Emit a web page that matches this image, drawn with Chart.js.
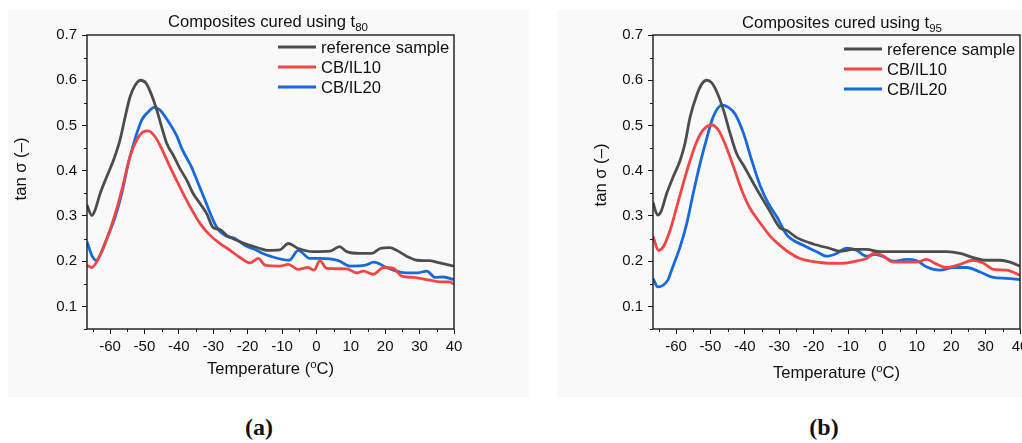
<!DOCTYPE html>
<html lang="en">
  <head>
    <meta charset="UTF-8" />
    <title>tan delta vs temperature</title>
    <script src="https://cdn.jsdelivr.net/npm/chart.js@4.4.0/dist/chart.umd.min.js"></script>
    <style>
      html, body {
        margin: 0;
        padding: 0;
        width: 1022px;
        height: 443px;
        overflow: hidden;
        background: #fff;
      }
      .panel {
        position: absolute;
        top: 10px;
        height: 387px;
        background: #f9f9f9;
      }
      .caption {
        position: absolute;
        top: 414px;
        font: bold 24px "Liberation Serif", serif;
        color: #111;
        transform: translateX(-50%);
      }
    </style>
  </head>
  <body>
    <div class="panel" style="left: 8px; width: 521px">
      <canvas id="chartA" width="521" height="387"></canvas>
    </div>
    <div class="panel" style="left: 557px; width: 521px">
      <canvas id="chartB" width="521" height="387"></canvas>
    </div>
    <div class="caption" style="left: 259px">(a)</div>
    <div class="caption" style="left: 824px">(b)</div>

    <script>
      // ---- data ----
      var names = ["reference sample", "CB/IL10", "CB/IL20"];
      var colors = ["#4d4d4d", "#f24646", "#1769dc"];
      var xTicks = [-60, -50, -40, -30, -20, -10, 0, 10, 20, 30, 40];
      var yTicks = [0.1, 0.2, 0.3, 0.4, 0.5, 0.6, 0.7];

      // (a) t80
      var refA_T = [-66.7, -65.3, -64.4, -62.9, -61, -59, -57.1, -55.6, -54.2, -52.7, -51.1, -49.5, -47.9, -46.4, -45, -43.5, -41.6, -39.9, -37.7, -35.8, -33.8, -31.9, -30, -28, -26.1, -23.2, -20.3, -16.4, -14.4, -10.6, -8.2, -5.3, -0.9, 4, 6.7, 8.8, 12.7, 16.1, 18.5, 21.4, 23.3, 26.2, 29.2, 33, 35.9, 40];
      var refA_tan = [0.324, 0.301, 0.312, 0.349, 0.386, 0.423, 0.468, 0.519, 0.563, 0.589, 0.6, 0.593, 0.567, 0.534, 0.497, 0.46, 0.434, 0.408, 0.379, 0.349, 0.327, 0.305, 0.274, 0.27, 0.257, 0.246, 0.237, 0.228, 0.224, 0.225, 0.239, 0.228, 0.221, 0.222, 0.232, 0.221, 0.217, 0.217, 0.228, 0.23, 0.224, 0.211, 0.202, 0.201, 0.196, 0.189];
      var il10A_T = [-66.7, -65.3, -63.9, -61.9, -60, -58, -56.1, -54.2, -52.2, -50.3, -48.9, -46.9, -45, -42.6, -39.7, -36.7, -33.8, -30.9, -28, -25.1, -22.2, -19.3, -16.9, -14.9, -10.6, -8.2, -5.3, -2.4, -0.7, 1, 3, 8.8, 11.7, 13.7, 16.5, 19.5, 22.4, 24.8, 28.2, 33, 35.9, 38.8, 40];
      var il10A_tan = [0.191, 0.186, 0.198, 0.232, 0.269, 0.317, 0.372, 0.431, 0.468, 0.486, 0.488, 0.475, 0.449, 0.409, 0.364, 0.32, 0.283, 0.257, 0.239, 0.224, 0.208, 0.196, 0.206, 0.191, 0.189, 0.193, 0.182, 0.186, 0.18, 0.201, 0.184, 0.183, 0.174, 0.178, 0.171, 0.186, 0.184, 0.167, 0.164, 0.158, 0.154, 0.154, 0.149];
      var il20A_T = [-66.7, -65.3, -64, -62.4, -60.5, -58.5, -56.6, -54.7, -52.7, -50.8, -48.9, -47.2, -45.5, -43, -40.6, -39.2, -37.5, -36.3, -34.8, -32.4, -30, -28.5, -26.1, -23.7, -20.8, -17.4, -15.9, -13.5, -7.9, -5.3, -1.9, 1, 6.4, 9.8, 14.2, 16.7, 20.4, 24.3, 29.2, 32.1, 34.5, 37, 40];
      var il20A_tan = [0.243, 0.213, 0.202, 0.221, 0.258, 0.298, 0.35, 0.416, 0.471, 0.512, 0.53, 0.54, 0.534, 0.508, 0.477, 0.45, 0.425, 0.408, 0.38, 0.335, 0.29, 0.269, 0.255, 0.25, 0.235, 0.224, 0.218, 0.211, 0.202, 0.224, 0.206, 0.206, 0.201, 0.189, 0.191, 0.198, 0.186, 0.176, 0.174, 0.178, 0.164, 0.165, 0.159];

      // (b) t95
      var refB_T = [-66.7, -65.4, -64.4, -62.7, -60.8, -58.8, -57.4, -55.9, -54, -52.5, -51.1, -49.6, -48.2, -46.2, -44.3, -42.4, -40.4, -38, -35.6, -32.7, -29.8, -27.8, -24.9, -20.1, -15.2, -12.3, -8.5, -4.6, -0.7, 8, 18.7, 22.6, 26.4, 30.3, 34.2, 37.1, 40];
      var refB_tan = [0.33, 0.302, 0.309, 0.35, 0.387, 0.423, 0.46, 0.519, 0.567, 0.592, 0.6, 0.594, 0.575, 0.534, 0.483, 0.438, 0.412, 0.379, 0.347, 0.31, 0.274, 0.268, 0.252, 0.238, 0.228, 0.222, 0.226, 0.226, 0.221, 0.221, 0.221, 0.217, 0.208, 0.202, 0.202, 0.198, 0.189];
      var il10B_T = [-66.7, -65.1, -63.7, -61.7, -59.8, -57.9, -55.9, -54, -52.1, -49.6, -47.7, -45.8, -43.3, -40.9, -38.5, -35.6, -32.7, -29.8, -26.9, -24, -18.1, -12.3, -6.5, -4.6, -2.2, 0.3, 3.2, 10, 12.9, 15.3, 18.7, 22.6, 26.4, 29.3, 32.2, 36.1, 40];
      var il10B_tan = [0.255, 0.224, 0.232, 0.269, 0.32, 0.372, 0.423, 0.464, 0.49, 0.501, 0.49, 0.46, 0.409, 0.357, 0.317, 0.285, 0.256, 0.235, 0.218, 0.206, 0.197, 0.195, 0.202, 0.206, 0.218, 0.211, 0.198, 0.198, 0.204, 0.195, 0.186, 0.193, 0.202, 0.196, 0.182, 0.18, 0.169];
      var il20B_T = [-66.7, -65.3, -62.4, -61.3, -58.8, -56.9, -55, -53, -51.1, -49.2, -46.7, -44.8, -42.8, -40.4, -38, -35.6, -33.2, -30.7, -27.8, -23, -19.1, -16.2, -13.3, -10.4, -7.5, -4.6, -2.2, 0.3, 3.2, 7.1, 10, 12.9, 16.7, 20.6, 24.5, 28.4, 32.2, 36.1, 40];
      var il20B_tan = [0.162, 0.143, 0.158, 0.18, 0.232, 0.283, 0.35, 0.416, 0.471, 0.519, 0.545, 0.54, 0.525, 0.483, 0.423, 0.368, 0.328, 0.298, 0.258, 0.235, 0.221, 0.211, 0.217, 0.229, 0.224, 0.211, 0.215, 0.21, 0.2, 0.204, 0.201, 0.187, 0.18, 0.186, 0.186, 0.176, 0.164, 0.162, 0.159];

      var FONT = '"Liberation Sans", Arial, sans-serif';
      var BIG = "16.6px " + FONT;
      var SMALL = "11.5px " + FONT;

      function pts(xs, ys) {
        return xs.map(function (v, i) {
          return { x: v, y: ys[i] };
        });
      }

      // frame, minor ticks, title, legend and axis titles
      var decor = {
        id: "decor",
        afterDraw: function (chart, args, o) {
          var ctx = chart.ctx;
          var a = chart.chartArea;
          var x = chart.scales.x;
          var y = chart.scales.y;
          ctx.save();

          ctx.strokeStyle = "#1a1a1a";
          ctx.lineWidth = 1.4;
          ctx.strokeRect(a.left, a.top, a.right - a.left, a.bottom - a.top);

          // minor ticks
          ctx.lineWidth = 1;
          ctx.beginPath();
          for (var v = -65; v <= 35; v += 10) {
            var px = Math.round(x.getPixelForValue(v)) + 0.5;
            ctx.moveTo(px, a.bottom);
            ctx.lineTo(px, a.bottom + 3);
          }
          for (var k = 0; k < 7; k++) {
            var py = Math.round(y.getPixelForValue(0.05 + k * 0.1)) + 0.5;
            ctx.moveTo(a.left, py);
            ctx.lineTo(a.left - 3, py);
          }
          ctx.stroke();

          ctx.fillStyle = "#111";
          ctx.textBaseline = "alphabetic";

          // title with subscript
          ctx.font = BIG;
          var main = "Composites cured using t";
          var w1 = ctx.measureText(main).width;
          ctx.font = SMALL;
          var w2 = ctx.measureText(o.sub).width;
          var tx = o.titleX - (w1 + w2) / 2;
          ctx.font = BIG;
          ctx.textAlign = "left";
          ctx.fillText(main, tx, o.titleY);
          ctx.font = SMALL;
          ctx.fillText(o.sub, tx + w1, o.titleY + 4);

          // legend
          ctx.font = BIG;
          ctx.textBaseline = "middle";
          chart.data.datasets.forEach(function (ds, i) {
            var ly = o.legY + i * 20;
            ctx.strokeStyle = ds.borderColor;
            ctx.lineWidth = 3;
            ctx.beginPath();
            ctx.moveTo(o.legX, ly);
            ctx.lineTo(o.legX + 38, ly);
            ctx.stroke();
            ctx.fillText(ds.label, o.legX + 43, ly + 1);
          });

          // y title
          ctx.save();
          ctx.translate(o.yTitle[0], o.yTitle[1]);
          ctx.rotate(-Math.PI / 2);
          ctx.textAlign = "center";
          ctx.font = BIG;
          ctx.fillText("tan \u03c3 (\u2013)", 0, 0);
          ctx.restore();

          // x title with superscript o
          ctx.textBaseline = "alphabetic";
          ctx.font = BIG;
          var p1 = "Temperature (",
            p3 = "C)";
          var a1 = ctx.measureText(p1).width;
          var a3 = ctx.measureText(p3).width;
          ctx.font = SMALL;
          var a2 = ctx.measureText("o").width;
          var cx = (a.left + a.right) / 2 - (a1 + a2 + a3) / 2;
          ctx.font = BIG;
          ctx.fillText(p1, cx, o.xTitleY);
          ctx.font = SMALL;
          ctx.fillText("o", cx + a1, o.xTitleY - 6);
          ctx.font = BIG;
          ctx.fillText(p3, cx + a1 + a2, o.xTitleY);

          ctx.restore();
        },
      };

      function makeChart(id, series, yw, padRight, deco) {
        var datasets = series.map(function (s, i) {
          return {
            label: names[i],
            data: s,
            borderColor: colors[i],
            borderWidth: 2.8,
            pointRadius: 0,
            fill: false,
            cubicInterpolationMode: "monotone",
          };
        });
        return new Chart(document.getElementById(id), {
          type: "line",
          data: { datasets: datasets },
          plugins: [decor],
          options: {
            responsive: false,
            animation: false,
            devicePixelRatio: 1,
            layout: { padding: { top: 25, right: padRight, left: 0, bottom: 0 } },
            plugins: {
              legend: { display: false },
              tooltip: { enabled: false },
              decor: deco,
            },
            scales: {
              x: {
                type: "linear",
                min: -66.7,
                max: 40,
                afterBuildTicks: function (s) {
                  s.ticks = xTicks.map(function (v) {
                    return { value: v };
                  });
                },
                afterFit: function (s) {
                  s.height = 68;
                },
                grid: {
                  drawOnChartArea: false,
                  tickLength: 5,
                  color: "#1a1a1a",
                  lineWidth: 1,
                },
                border: { display: false },
                ticks: {
                  color: "#111",
                  font: { family: FONT, size: 15 },
                  padding: 4,
                  maxRotation: 0,
                  autoSkip: false,
                },
              },
              y: {
                min: 0.05,
                max: 0.7,
                afterBuildTicks: function (s) {
                  s.ticks = yTicks.map(function (v) {
                    return { value: v };
                  });
                },
                afterFit: function (s) {
                  s.width = yw;
                },
                grid: {
                  drawOnChartArea: false,
                  tickLength: 5,
                  color: "#1a1a1a",
                  lineWidth: 1,
                },
                border: { display: false },
                ticks: {
                  color: "#111",
                  font: { family: FONT, size: 15 },
                  padding: 5,
                  callback: function (v) {
                    return v.toFixed(1);
                  },
                },
              },
            },
          },
        });
      }

      makeChart(
        "chartA",
        [pts(refA_T, refA_tan), pts(il10A_T, il10A_tan), pts(il20A_T, il20A_tan)],
        79,
        75,
        { sub: "80", titleX: 260, titleY: 17, legX: 270, legY: 37, yTitle: [13, 159], xTitleY: 364 }
      );
      makeChart(
        "chartB",
        [pts(refB_T, refB_tan), pts(il10B_T, il10B_tan), pts(il20B_T, il20B_tan)],
        96,
        58,
        { sub: "95", titleX: 285, titleY: 18, legX: 287, legY: 39, yTitle: [44, 165], xTitleY: 368 }
      );
    </script>
  </body>
</html>
